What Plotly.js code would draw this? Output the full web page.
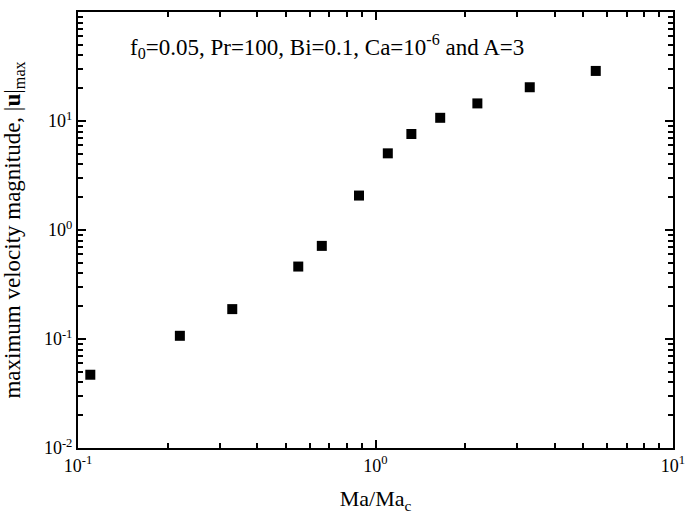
<!DOCTYPE html>
<html>
<head>
<meta charset="utf-8">
<script src="https://cdn.plot.ly/plotly-3.0.1.min.js"></script>
<style>html,body{margin:0;padding:0;background:#fff;}#chart{width:685px;height:526px;}</style>
</head>
<body>
<div id="chart"></div>
<script>
const maRatio = [0.11, 0.22, 0.33, 0.55, 0.66, 0.88, 1.1, 1.32, 1.65, 2.2, 3.3, 5.5];
const uMax = [0.047, 0.107, 0.188, 0.462, 0.715, 2.07, 5.05, 7.6, 10.7, 14.5, 20.4, 28.8];
const xTickVals = [0.1, 1, 10];
const xTickText = ['10<sup>-1</sup>', '10<sup>0</sup>', '10<sup>1</sup>'];
const yTickVals = [0.01, 0.1, 1, 10, 100];
const yTickText = ['10<sup>-2</sup>', '10<sup>-1</sup>', '10<sup>0</sup>', '10<sup>1</sup>', '10<sup>2</sup>'];
const annotText = 'f<sub>0</sub>=0.05, Pr=100, Bi=0.1, Ca=10<sup>-6</sup> and A=3';
const xTitle = 'Ma/Ma<sub>c</sub>';
const yTitle = 'maximum velocity magnitude, |<b>u</b>|<sub>max</sub>';

// minor ticks at 2..9 within each decade spanned by the major tick values
function minorTicks(majors) {
  const out = [];
  for (let i = 0; i < majors.length - 1; i++) {
    for (let k = 2; k <= 9; k++) out.push(majors[i] * k);
  }
  return out;
}

const fam = '"Liberation Serif", "Times New Roman", serif';
const tickFont = {family: fam, color: '#000', size: 18};

const xa = {
  type: 'log', range: [-1, 1],
  showline: true, linecolor: '#000', linewidth: 2,
  mirror: 'ticks',
  tickvals: xTickVals, ticktext: xTickText,
  ticks: 'inside', ticklen: 8, tickwidth: 2, tickcolor: '#000',
  ticklabeloverflow: 'allow',
  showgrid: false, zeroline: false, tickfont: tickFont,
  title: {text: xTitle, font: {family: fam, size: 22, color: '#000'}, standoff: 16}
};
const ya = {
  type: 'log', range: [-2, 2],
  showline: true, linecolor: '#000', linewidth: 2,
  mirror: 'ticks',
  tickvals: yTickVals, ticktext: yTickText,
  ticks: 'inside', ticklen: 8, tickwidth: 2, tickcolor: '#000',
  showgrid: false, zeroline: false, tickfont: tickFont,
  title: {text: yTitle, font: {family: fam, size: 23, color: '#000'}, standoff: 18}
};

function minorAxis(majors, range, over, anchor) {
  return {
    type: 'log', range: range, overlaying: over, anchor: anchor,
    showline: false, mirror: 'ticks',
    tickvals: minorTicks(majors), showticklabels: false,
    ticks: 'inside', ticklen: 5, tickwidth: 2, tickcolor: '#000',
    showgrid: false, zeroline: false
  };
}

const trace = {
  x: maRatio, y: uMax, mode: 'markers', type: 'scatter',
  marker: {symbol: 'square', size: 10, color: '#000'},
  showlegend: false
};
const minorHolder = {
  x: [], y: [], xaxis: 'x2', yaxis: 'y2', type: 'scatter', mode: 'markers',
  showlegend: false, hoverinfo: 'skip'
};

const layout = {
  width: 685, height: 526,
  margin: {l: 78, r: 12, t: 12, b: 78},
  paper_bgcolor: '#fff', plot_bgcolor: '#fff',
  font: {family: fam, color: '#000', size: 18},
  xaxis: xa,
  yaxis: ya,
  xaxis2: minorAxis(xTickVals, [-1, 1], 'x', 'y'),
  yaxis2: minorAxis(yTickVals, [-2, 2], 'y', 'x'),
  annotations: [{
    text: annotText, xref: 'paper', yref: 'paper', x: 0.084, y: 0.922,
    xanchor: 'left', yanchor: 'middle', showarrow: false,
    font: {family: fam, size: 23, color: '#000'}
  }]
};

Plotly.newPlot('chart', [trace, minorHolder], layout, {displayModeBar: false, staticPlot: true});
</script>
</body>
</html>
